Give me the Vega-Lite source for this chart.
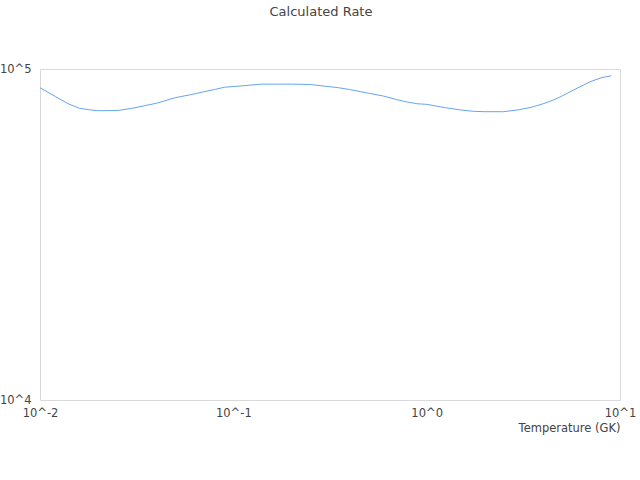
{
  "$schema": "https://vega.github.io/schema/vega-lite/v6.json",
  "width": 580,
  "height": 331,
  "autosize": {"type": "none"},
  "padding": {"left": 40, "top": 69, "right": 20, "bottom": 80},
  "title": {
    "text": "Calculated Rate",
    "font": "DejaVu Sans",
    "fontSize": 13,
    "fontWeight": "normal",
    "color": "#444444",
    "offset": 44,
    "dx": -9
  },
  "config": {
    "view": {"stroke": "#d9d9d9"},
    "axis": {
      "labelFont": "DejaVu Sans",
      "labelFontSize": 11.5,
      "labelColor": "#444444",
      "titleFont": "DejaVu Sans",
      "titleFontSize": 11.5,
      "titleFontWeight": "normal",
      "titleColor": "#444444",
      "domain": false,
      "ticks": false,
      "grid": false
    }
  },
  "data": {
    "values": [
      {"T": 0.01, "rate": 87800},
      {"T": 0.012, "rate": 82600},
      {"T": 0.014, "rate": 78500},
      {"T": 0.016, "rate": 76100},
      {"T": 0.018, "rate": 75300},
      {"T": 0.02, "rate": 74800},
      {"T": 0.025, "rate": 74900},
      {"T": 0.03, "rate": 76100},
      {"T": 0.04, "rate": 78800},
      {"T": 0.05, "rate": 81900},
      {"T": 0.06, "rate": 83600},
      {"T": 0.07, "rate": 85300},
      {"T": 0.08, "rate": 86700},
      {"T": 0.09, "rate": 88100},
      {"T": 0.1, "rate": 88500},
      {"T": 0.12, "rate": 89300},
      {"T": 0.14, "rate": 90000},
      {"T": 0.16, "rate": 90000},
      {"T": 0.2, "rate": 90000},
      {"T": 0.25, "rate": 89800},
      {"T": 0.3, "rate": 88700},
      {"T": 0.35, "rate": 87800},
      {"T": 0.4, "rate": 86700},
      {"T": 0.5, "rate": 84500},
      {"T": 0.6, "rate": 82800},
      {"T": 0.7, "rate": 80800},
      {"T": 0.8, "rate": 79400},
      {"T": 0.9, "rate": 78500},
      {"T": 1, "rate": 78200},
      {"T": 1.25, "rate": 76400},
      {"T": 1.5, "rate": 75200},
      {"T": 1.75, "rate": 74500},
      {"T": 2, "rate": 74300},
      {"T": 2.5, "rate": 74300},
      {"T": 3, "rate": 75300},
      {"T": 3.5, "rate": 76700},
      {"T": 4, "rate": 78500},
      {"T": 4.5, "rate": 80500},
      {"T": 5, "rate": 82800},
      {"T": 6, "rate": 87500},
      {"T": 7, "rate": 91500},
      {"T": 8, "rate": 94100},
      {"T": 9, "rate": 95400}
    ]
  },
  "mark": {"type": "line", "color": "#64a5f0", "strokeWidth": 1},
  "encoding": {
    "x": {
      "field": "T",
      "type": "quantitative",
      "scale": {"type": "log", "domain": [0.01, 10]},
      "axis": {
        "title": "Temperature (GK)",
        "titleAnchor": "end",
        "titlePadding": 4,
        "labelPadding": 7,
        "values": [0.01, 0.1, 1, 10],
        "labelExpr": "'10^' + round(log(datum.value) / LN10)",
        "labelFlush": false
      }
    },
    "y": {
      "field": "rate",
      "type": "quantitative",
      "scale": {"type": "log", "domain": [10000, 100000]},
      "axis": {
        "title": null,
        "labelPadding": 9,
        "values": [10000, 100000],
        "labelExpr": "'10^' + round(log(datum.value) / LN10)"
      }
    }
  }
}
